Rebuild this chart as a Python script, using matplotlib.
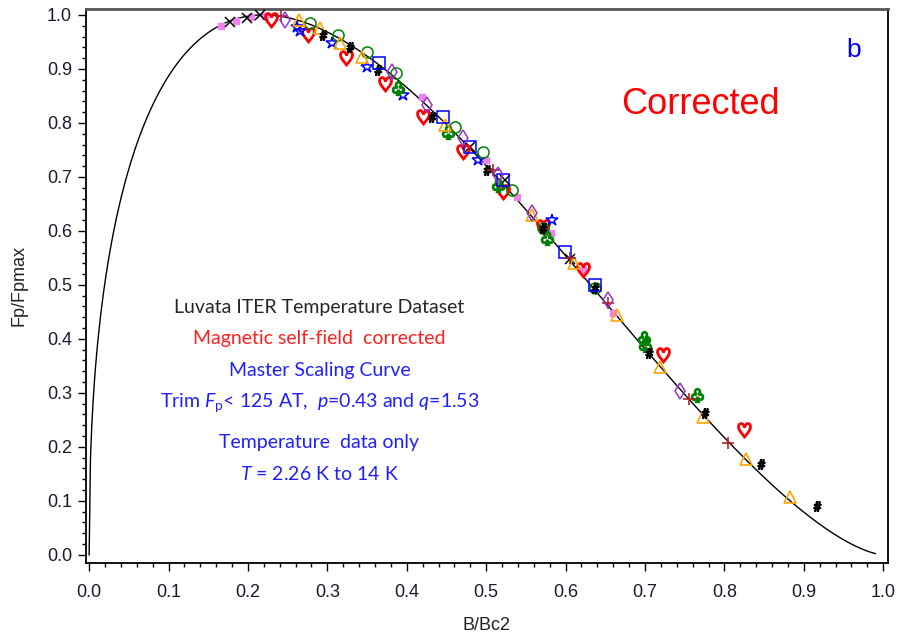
import matplotlib
matplotlib.use('Agg')
import matplotlib.pyplot as plt
from matplotlib.ticker import MultipleLocator
import numpy as np

## Globals
plt.rcParams['font.family'] = 'Liberation Sans'
plt.rcParams['mathtext.fontset'] = 'custom'
plt.rcParams['mathtext.rm'] = 'Lato'
plt.rcParams['mathtext.it'] = 'Lato:italic'

# scaling curve parameters (from the chart's own annotation)
p, q = 0.43, 1.53

# measured points, one pair of lists per symbol
pink_x = [0.166, 0.185, 0.204, 0.222, 0.419, 0.500, 0.539, 0.581, 0.622, 0.660]
pink_y = [0.980, 0.989, 0.996, 0.998, 0.848, 0.731, 0.663, 0.596, 0.528, 0.448]

cross_x = [0.178, 0.199, 0.215, 0.480, 0.524, 0.606]
cross_y = [0.987, 0.994, 1.000, 0.756, 0.694, 0.548]

heart_x = [0.229, 0.276, 0.324, 0.373, 0.421, 0.471, 0.521, 0.571, 0.622, 0.723, 0.825]
heart_y = [0.991, 0.963, 0.920, 0.872, 0.811, 0.746, 0.672, 0.607, 0.528, 0.370, 0.231]

star_x = [0.262, 0.266, 0.306, 0.350, 0.395, 0.490, 0.583]
star_y = [0.978, 0.970, 0.948, 0.904, 0.852, 0.731, 0.620]

circle_x = [0.278, 0.314, 0.350, 0.387, 0.461, 0.496, 0.533, 0.571, 0.637]
circle_y = [0.985, 0.963, 0.931, 0.893, 0.793, 0.746, 0.676, 0.606, 0.494]

club_x = [0.389, 0.452, 0.515, 0.577, 0.699, 0.700, 0.766]
club_y = [0.865, 0.783, 0.685, 0.587, 0.402, 0.389, 0.296]

tri_x = [0.264, 0.291, 0.316, 0.343, 0.448, 0.558, 0.610, 0.665, 0.719, 0.773, 0.827, 0.882]
tri_y = [0.991, 0.976, 0.948, 0.922, 0.796, 0.630, 0.541, 0.444, 0.348, 0.256, 0.178, 0.107]

hash_x = [0.295, 0.329, 0.364, 0.432, 0.501, 0.571, 0.637, 0.705, 0.776, 0.846, 0.916]
hash_y = [0.963, 0.941, 0.898, 0.811, 0.713, 0.606, 0.494, 0.374, 0.263, 0.169, 0.091]

square_x = [0.365, 0.445, 0.480, 0.521, 0.599, 0.637]
square_y = [0.911, 0.811, 0.756, 0.694, 0.561, 0.500]

plus_x = [0.242, 0.509, 0.606, 0.654, 0.756, 0.805]
plus_y = [0.998, 0.713, 0.550, 0.467, 0.289, 0.207]

diamond_x = [0.247, 0.382, 0.426, 0.471, 0.515, 0.558, 0.654, 0.744]
diamond_y = [0.991, 0.894, 0.833, 0.772, 0.704, 0.633, 0.472, 0.304]

notes = ['Luvata ITER Temperature Dataset',
         'Magnetic self-field  corrected',
         'Master Scaling Curve',
         r'Trim $F_{\mathrm{p}}$< 125 AT,  $p$=0.43 and $q$=1.53',
         'Temperature  data only',
         r'$T$ = 2.26 K to 14 K']
note_y = [0.459, 0.400, 0.341, 0.282, 0.209, 0.150]
note_colors = ['#262626', '#ff2020', '#2020ff', '#2020ff', '#2020ff', '#2020ff']


def scaling_curve(b):
    bmax = p / (p + q)
    return (b**p * (1 - b)**q) / (bmax**p * (1 - bmax)**q)


def main():
    fig = plt.figure(figsize=(9.04, 6.37), dpi=100)
    ax = fig.add_axes([0.0951, 0.1162, 0.9823 - 0.0951, 0.9859 - 0.1162])

    b = np.linspace(0, 0.99, 600)
    ax.plot(b, scaling_curve(b), color='black', lw=1.0, zorder=2)

    ms = 9
    ax.plot(pink_x, pink_y, 's', ms=4.5, color='#ee82ee', zorder=3)
    ax.plot(cross_x, cross_y, 'x', ms=7, mew=1.1, color='black', zorder=3)
    ax.plot(heart_x, heart_y, ls='none', marker='$\u2661$', ms=ms + 2, color='red', zorder=3)
    ax.plot(star_x, star_y, '*', ms=ms, mfc='none', mew=1.1, color='blue', zorder=3)
    ax.plot(circle_x, circle_y, 'o', ms=ms - 1, mfc='none', mew=1.1, color='green', zorder=3)
    ax.plot(club_x, club_y, ls='none', marker='$\u2667$', ms=ms + 1, color='green', zorder=3)
    ax.plot(tri_x, tri_y, '^', ms=ms - 1, mfc='none', mew=1.2, color='orange', zorder=3)
    ax.plot(hash_x, hash_y, ls='none', marker=r'$\#$', ms=ms - 2, color='black', zorder=3)
    ax.plot(square_x, square_y, 's', ms=ms - 1, mfc='none', mew=1.1, color='blue', zorder=3)
    ax.plot(plus_x, plus_y, '+', ms=ms, mew=1.2, color='#b22222', zorder=3)
    ax.plot(diamond_x, diamond_y, 'd', ms=ms - 1, mfc='none', mew=1.1, color='#9932cc', zorder=3)

    ax.set_xlim(-0.004, 1.006)
    ax.set_ylim(-0.015, 1.011)
    ax.xaxis.set_major_locator(MultipleLocator(0.1))
    ax.xaxis.set_minor_locator(MultipleLocator(0.02))
    ax.yaxis.set_major_locator(MultipleLocator(0.1))
    ax.yaxis.set_minor_locator(MultipleLocator(0.02))
    ax.xaxis.set_major_formatter(lambda v, pos: f'{v:.1f}')
    ax.yaxis.set_major_formatter(lambda v, pos: f'{v:.1f}')
    ax.tick_params(which='major', direction='out', length=6, width=1, colors='black',
                   labelcolor='#1a1a2e', pad=4)
    ax.tick_params(which='minor', direction='out', length=3, width=1, colors='black')
    ax.tick_params(axis='y', labelsize=13)
    ax.tick_params(axis='x', labelsize=13, pad=9)

    for side in ['left', 'bottom', 'right']:
        ax.spines[side].set_linewidth(1.3)
        ax.spines[side].set_color('black')
    ax.spines['top'].set_linewidth(2)
    ax.spines['top'].set_color('#555555')

    ax.set_xlabel('B/Bc2', fontsize=13, color='#222222', labelpad=12)
    ax.set_ylabel('Fp/Fpmax', fontsize=13, color='#222222', labelpad=14)

    for txt, yy, col in zip(notes, note_y, note_colors):
        ax.text(0.29, yy, txt, ha='center', va='center', fontsize=14, family='Lato', color=col)

    ax.text(0.77, 0.835, 'Corrected', ha='center', va='center', fontsize=26,
            family='Liberation Sans', color='red')
    ax.text(0.963, 0.935, 'b', ha='center', va='center', fontsize=19,
            family='Liberation Sans', color='blue')

    fig.savefig('out.png', dpi=100)


if __name__ == "__main__":
    main()
